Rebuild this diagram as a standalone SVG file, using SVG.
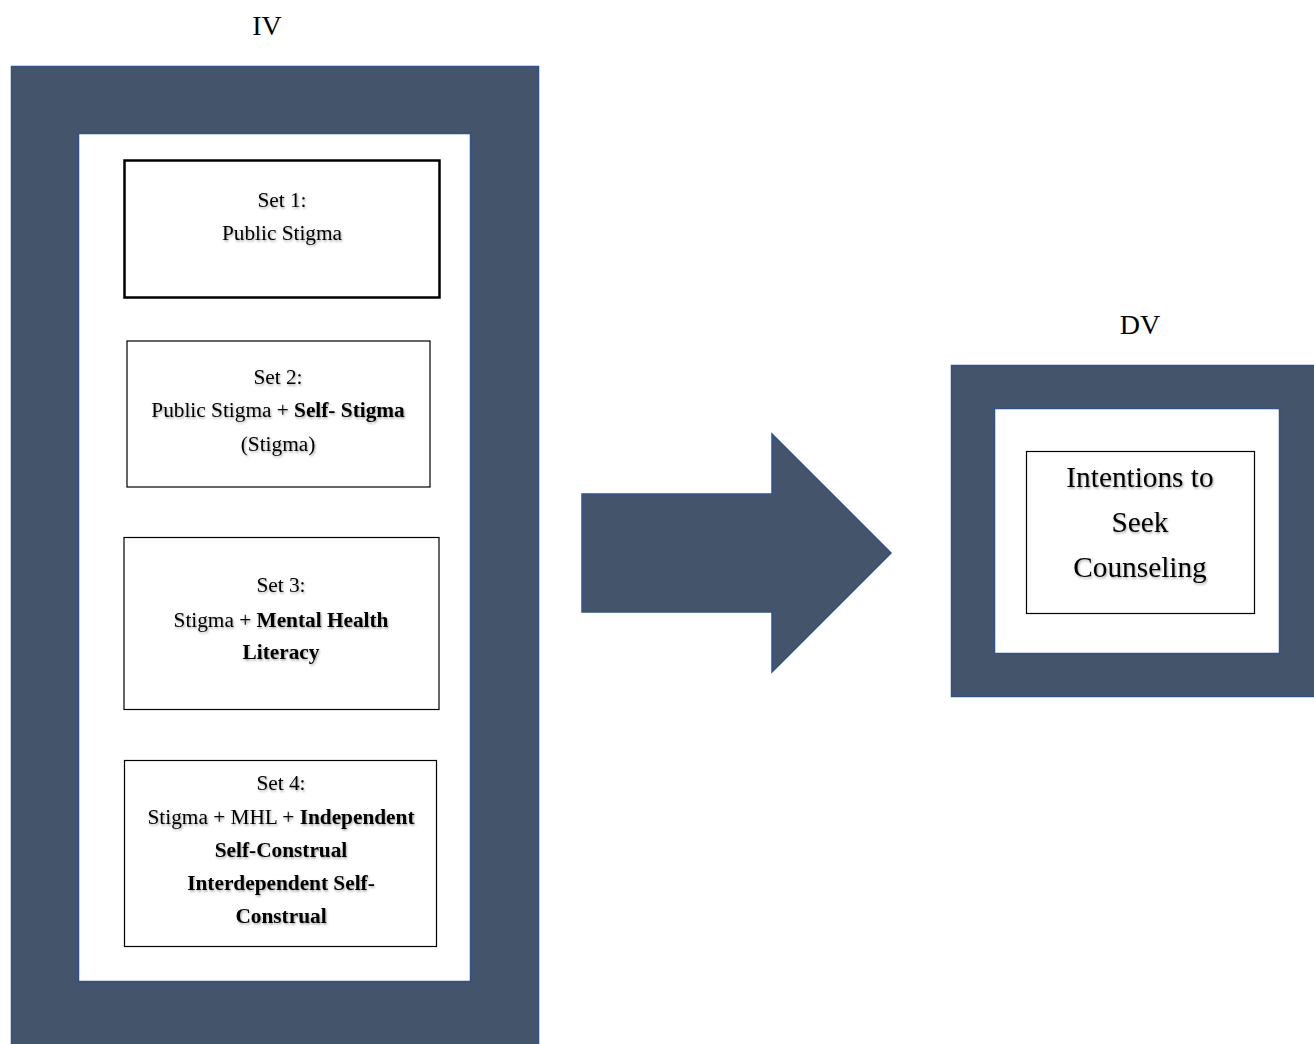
<svg xmlns="http://www.w3.org/2000/svg" width="1314" height="1044" viewBox="0 0 1314 1044">
  <defs>
    <filter id="soft" x="-10%" y="-30%" width="120%" height="160%">
      <feDropShadow dx="1" dy="1.5" stdDeviation="1" flood-color="#000" flood-opacity="0.35"/>
    </filter>
  </defs>
  <style>
    .frame { fill: #44546A; stroke: #2F528F; stroke-width: 1.5; }
    .well { fill: #FFFFFF; stroke: #2F528F; stroke-width: 1.5; }
    .box { fill: #FFFFFF; stroke: #000000; stroke-width: 1.2; }
    .box-thick { fill: #FFFFFF; stroke: #000000; stroke-width: 2.5; }
    text { font-family: "Liberation Serif", "Times New Roman", serif; fill: #000; text-anchor: middle; }
    .t { font-size: 21.3px; filter: url(#soft); }
    .big { font-size: 29.3px; filter: url(#soft); }
    .head { font-size: 28px; }
    .b { font-weight: bold; }
  </style>

  <rect width="1314" height="1044" fill="#FFFFFF"/>

  <!-- Independent variables panel -->
  <g id="iv-panel">
    <text class="head" x="267" y="35">IV</text>
    <rect class="frame" x="11.5" y="66.5" width="527" height="990"/>
    <rect class="well" x="78.5" y="133.5" width="392" height="848"/>
  </g>

  <g id="set1">
    <rect class="box-thick" x="124.5" y="160.5" width="315" height="137"/>
    <text class="t" x="282" y="207">Set 1:</text>
    <text class="t" x="282" y="240">Public Stigma</text>
  </g>

  <g id="set2">
    <rect class="box" x="127" y="341" width="303" height="146"/>
    <text class="t" x="278" y="384">Set 2:</text>
    <text class="t" x="278" y="417">Public Stigma + <tspan class="b">Self- Stigma</tspan></text>
    <text class="t" x="278" y="451">(Stigma)</text>
  </g>

  <g id="set3">
    <rect class="box" x="124" y="537.5" width="315" height="172"/>
    <text class="t" x="281" y="592">Set 3:</text>
    <text class="t" x="281" y="627">Stigma + <tspan class="b">Mental Health</tspan></text>
    <text class="t b" x="281" y="659">Literacy</text>
  </g>

  <g id="set4">
    <rect class="box" x="124.5" y="760.5" width="312" height="186"/>
    <text class="t" x="281" y="790">Set 4:</text>
    <text class="t" x="281" y="824">Stigma + MHL + <tspan class="b">Independent</tspan></text>
    <text class="t b" x="281" y="857">Self-Construal</text>
    <text class="t b" x="281" y="890">Interdependent Self-</text>
    <text class="t b" x="281" y="923">Construal</text>
  </g>

  <!-- Block arrow from IV to DV -->
  <g id="connectors">
    <polygon class="frame" points="582,494 772,494 772,434 891,553 772,672 772,612 582,612"/>
  </g>

  <!-- Dependent variable panel -->
  <g id="dv-panel">
    <text class="head" x="1140" y="334">DV</text>
    <rect class="frame" x="951.5" y="365.5" width="380" height="331"/>
    <rect class="well" x="994.5" y="408.5" width="285" height="245"/>
  </g>

  <g id="dv">
    <rect class="box" x="1026.5" y="451.5" width="228" height="162"/>
    <text class="big" x="1140" y="487">Intentions to</text>
    <text class="big" x="1140" y="532">Seek</text>
    <text class="big" x="1140" y="577">Counseling</text>
  </g>
</svg>
